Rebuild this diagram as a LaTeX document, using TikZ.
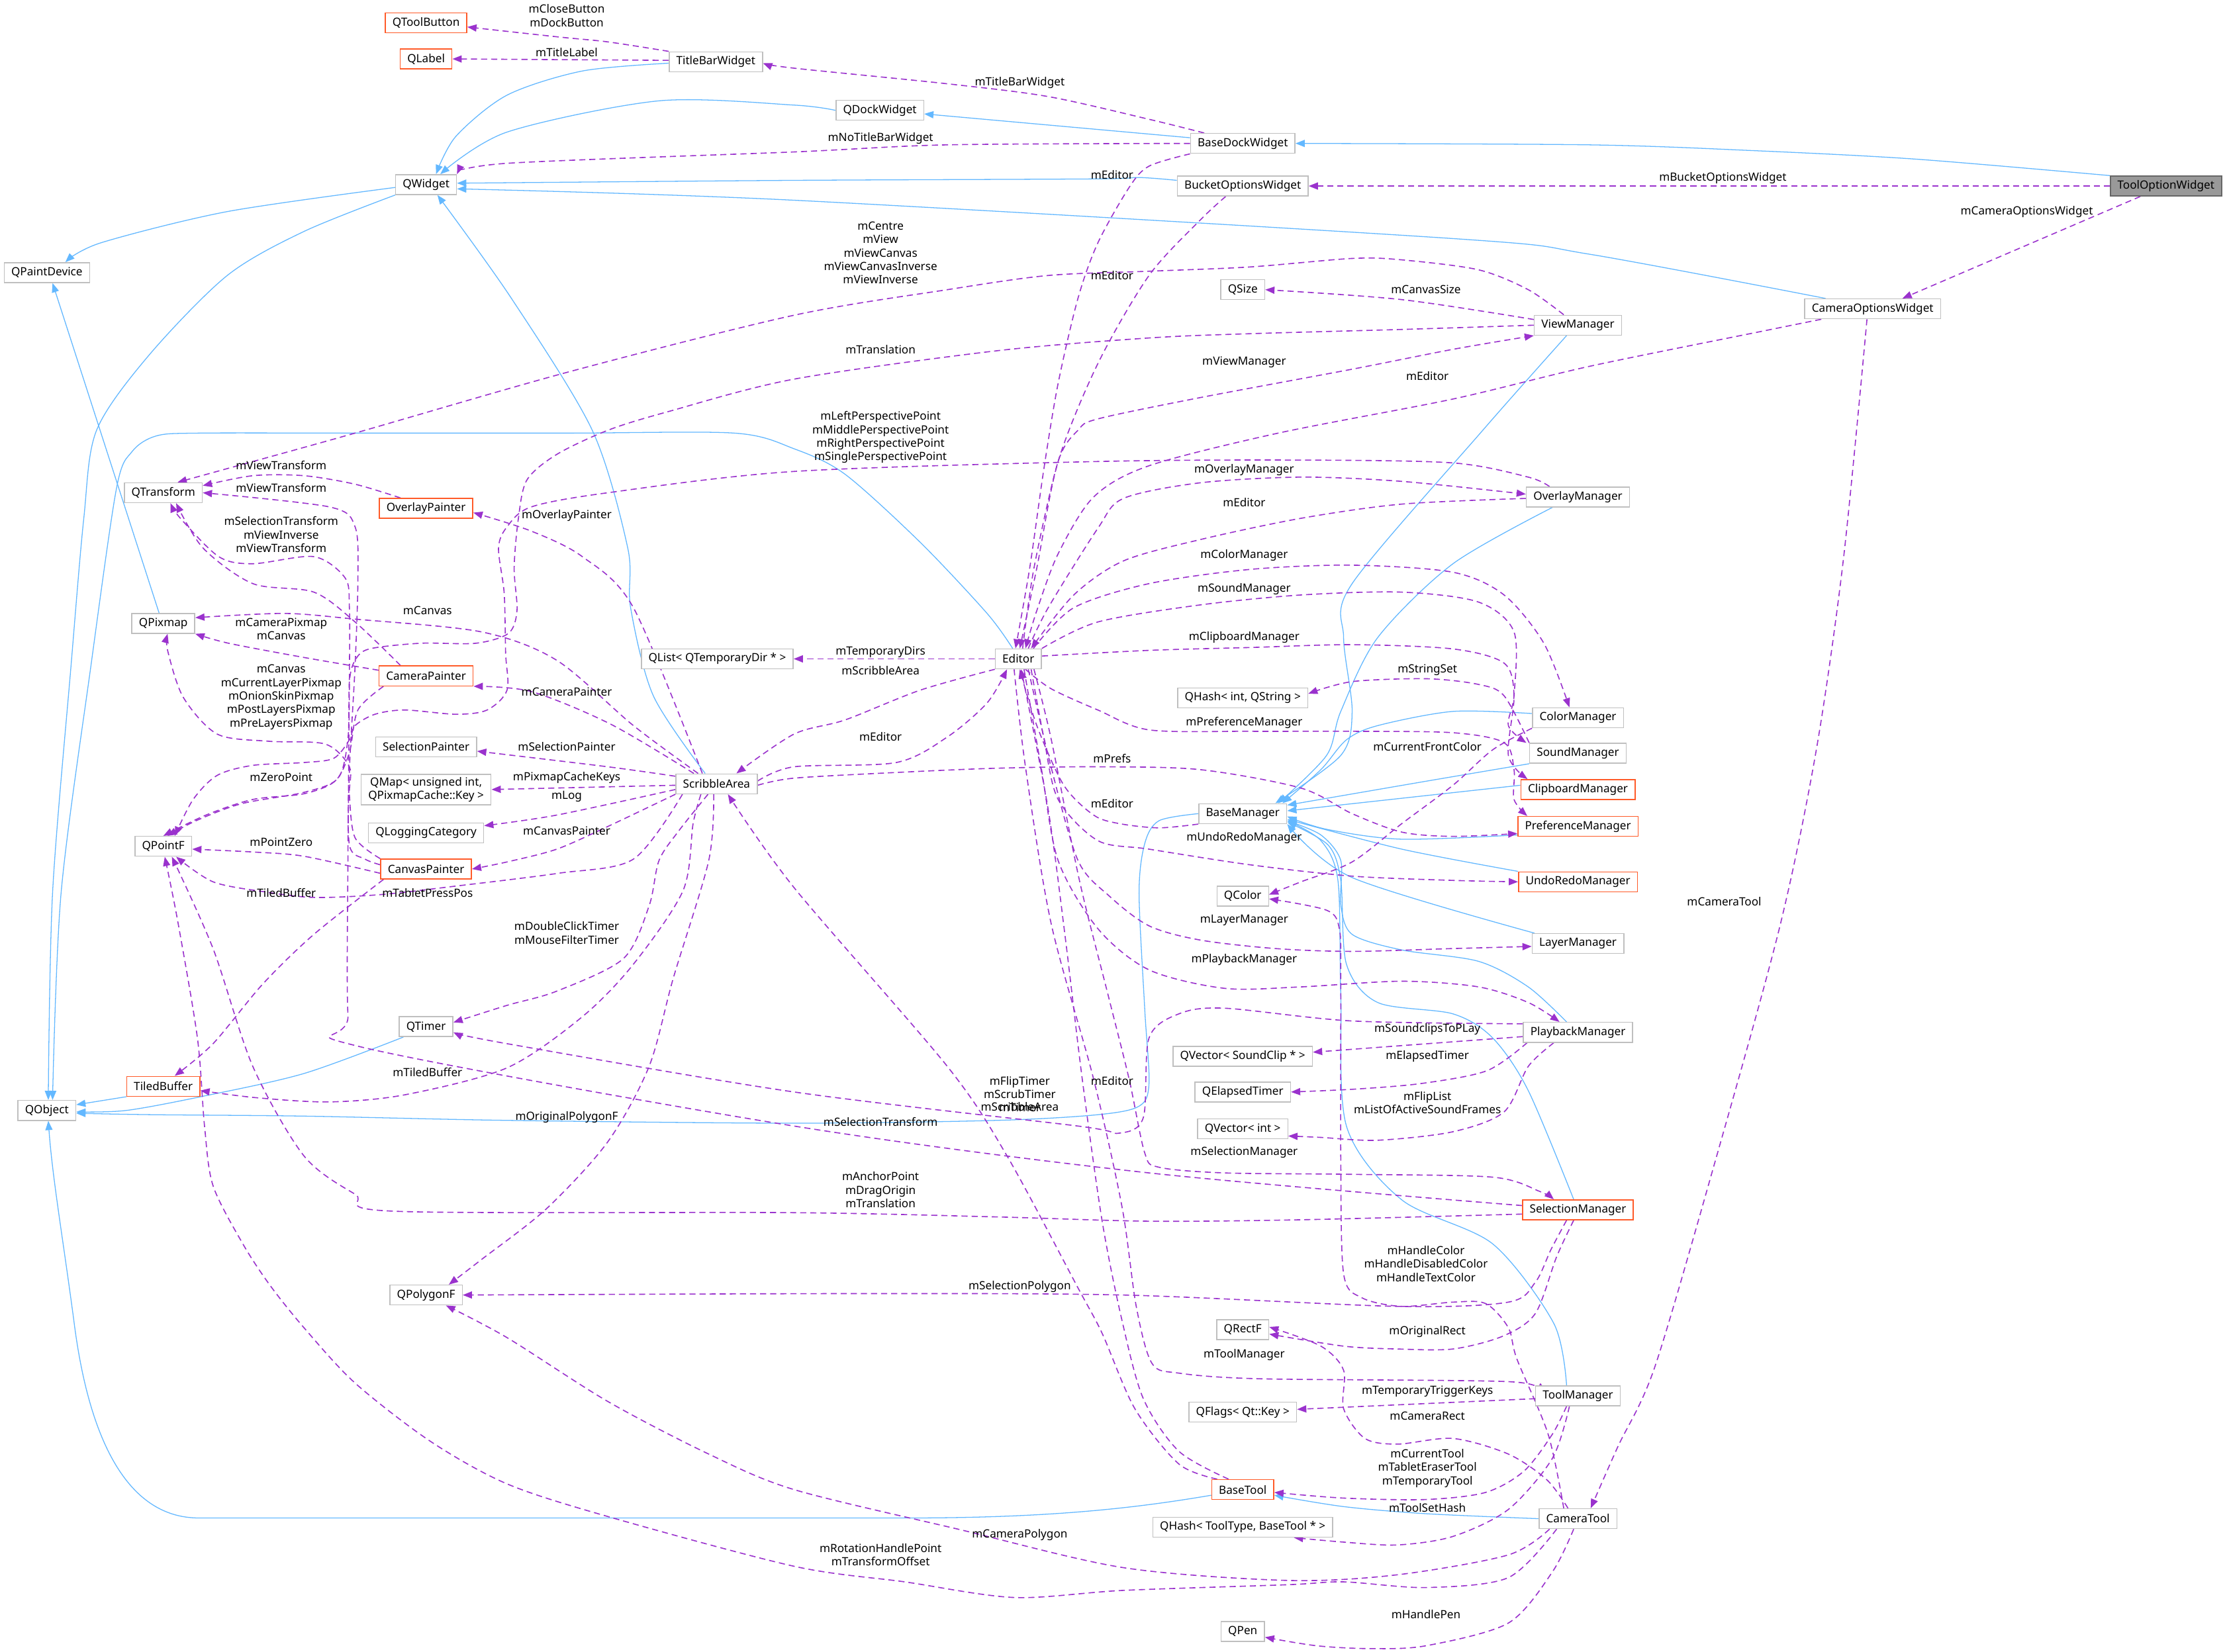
\documentclass[tikz,border=0pt]{standalone}
\usepackage{fontspec}
\setmainfont{Noto Sans}
\usetikzlibrary{arrows.meta}
\definecolor{inhC}{HTML}{63B8FF}
\definecolor{useC}{HTML}{9A32CD}
\definecolor{boxC}{HTML}{BFBFBF}
\definecolor{redC}{HTML}{FF5A28}
\definecolor{mainF}{HTML}{999999}
\definecolor{mainD}{HTML}{666666}
\pgfdeclarelayer{bgw}
\pgfdeclarelayer{edges}
\pgfsetlayers{bgw,edges,main}
\begin{document}
\begin{tikzpicture}[x=1pt,y=-1pt,
  font=\fontsize{8}{9.5}\selectfont,
  cls/.style={draw=boxC, fill=white, line width=0.7pt, inner xsep=5pt, inner ysep=2pt, minimum height=14pt, text=black, align=center},
  clsr/.style={cls, draw=redC},
  clsm/.style={cls, draw=mainD, fill=mainF},
  inh/.style={draw=inhC, line width=0.6pt, -{Triangle[length=6.5pt,width=5pt]}},
  use/.style={draw=useC, line width=0.75pt, dash pattern=on 4.3pt off 2.8pt, -{Triangle[length=6.5pt,width=5pt]}},
  lbl/.style={align=center, inner sep=0pt, text=black},
]
\begin{pgfonlayer}{bgw}
\fill[white] (0,0) rectangle (1568,1163);
\end{pgfonlayer}
\useasboundingbox (0,0) rectangle (1568,1163);

% ---------------- nodes ----------------
\node[clsr] (QToolButton) at (300,16) {QToolButton};
\node[clsr] (QLabel) at (300,41.5) {QLabel};
\node[cls] (TitleBarWidget) at (504,43.5) {TitleBarWidget};
\node[cls] (QDockWidget) at (619.5,77.7) {QDockWidget};
\node[cls] (BaseDockWidget) at (875,101) {BaseDockWidget};
\node[cls] (QWidget) at (300,130) {QWidget};
\node[cls] (BucketOptionsWidget) at (875,131) {BucketOptionsWidget};
\node[clsm] (ToolOptionWidget) at (1525,131) {ToolOptionWidget};
\node[cls] (QPaintDevice) at (33,192) {QPaintDevice};
\node[cls] (QSize) at (875,204) {QSize};
\node[cls] (ViewManager) at (1111,229) {ViewManager};
\node[cls] (CameraOptionsWidget) at (1318.5,217.5) {CameraOptionsWidget};
\node[cls] (QTransform) at (115,347) {QTransform};
\node[clsr] (OverlayPainter) at (300,358) {OverlayPainter};
\node[cls] (OverlayManager) at (1111,350) {OverlayManager};
\node[cls] (QPixmap) at (115,439) {QPixmap};
\node[clsr] (CameraPainter) at (300,476) {CameraPainter};
\node[cls] (Editor) at (717,464) {Editor};
\node[cls] (QList) at (505,464) {QList< QTemporaryDir * >};
\node[cls] (QHashIS) at (875,491.5) {QHash< int, QString >};
\node[cls] (ColorManager) at (1111,505.5) {ColorManager};
\node[cls] (SoundManager) at (1111,530.5) {SoundManager};
\node[cls] (SelectionPainter) at (300,526) {SelectionPainter};
\node[cls] (QMap) at (300,556) {QMap< unsigned int,\\QPixmapCache::Key >};
\node[cls] (ScribbleArea) at (504.5,552) {ScribbleArea};
\node[clsr] (ClipboardManager) at (1111,556) {ClipboardManager};
\node[cls] (BaseManager) at (875,573) {BaseManager};
\node[clsr] (PreferenceManager) at (1111,582) {PreferenceManager};
\node[cls] (QLoggingCategory) at (300,586.5) {QLoggingCategory};
\node[cls] (QPointF) at (115,596) {QPointF};
\node[clsr] (CanvasPainter) at (300,612) {CanvasPainter};
\node[clsr] (UndoRedoManager) at (1111,621) {UndoRedoManager};
\node[cls] (QColor) at (875,631) {QColor};
\node[cls] (LayerManager) at (1111,664.5) {LayerManager};
\node[cls] (QTimer) at (300,723) {QTimer};
\node[cls] (PlaybackManager) at (1111,727) {PlaybackManager};
\node[cls] (QVecSC) at (875,744) {QVector< SoundClip * >};
\node[cls] (QElapsedTimer) at (875,769) {QElapsedTimer};
\node[clsr] (TiledBuffer) at (115,765) {TiledBuffer};
\node[cls] (QObject) at (33,782) {QObject};
\node[cls] (QVecInt) at (875,795) {QVector< int >};
\node[clsr] (SelectionManager) at (1111,852) {SelectionManager};
\node[cls] (QPolygonF) at (300,912) {QPolygonF};
\node[cls] (QRectF) at (875,936.5) {QRectF};
\node[cls] (ToolManager) at (1111,983) {ToolManager};
\node[cls] (QFlags) at (875,994.5) {QFlags< Qt::Key >};
\node[clsr] (BaseTool) at (875,1049) {BaseTool};
\node[cls] (QHashTT) at (875,1075.5) {QHash< ToolType, BaseTool * >};
\node[cls] (CameraTool) at (1111,1069.5) {CameraTool};
\node[cls] (QPen) at (875,1149) {QPen};

% ---------------- labels ----------------
\node[lbl] (l1) at (399,11) {mCloseButton\\mDockButton};
\node[lbl] (l2) at (399,37) {mTitleLabel};
\node[lbl] (l3) at (718,58.5) {mTitleBarWidget};
\node[lbl] (l4) at (620,97.6) {mNoTitleBarWidget};
\node[lbl] (l5) at (783,123) {mEditor};
\node[lbl] (l6) at (1213,125.5) {mBucketOptionsWidget};
\node[lbl] (l7) at (1427,149) {mCameraOptionsWidget};
\node[lbl] (l8) at (620,178) {mCentre\\mView\\mViewCanvas\\mViewCanvasInverse\\mViewInverse};
\node[lbl] (l9) at (783,194) {mEditor};
\node[lbl] (l10) at (1004,204) {mCanvasSize};
\node[lbl] (l11) at (620,246) {mTranslation};
\node[lbl] (l12) at (876,255) {mViewManager};
\node[lbl] (l13) at (1005,265) {mEditor};
\node[lbl] (l14) at (620,308) {mLeftPerspectivePoint\\mMiddlePerspectivePoint\\mRightPerspectivePoint\\mSinglePerspectivePoint};
\node[lbl] (l15) at (198,327.5) {mViewTransform};
\node[lbl] (l16) at (876,331) {mOverlayManager};
\node[lbl] (l17) at (198,343.5) {mViewTransform};
\node[lbl] (l18) at (876,354) {mEditor};
\node[lbl] (l19) at (399,363) {mOverlayPainter};
\node[lbl] (l20) at (198,376.5) {mSelectionTransform\\mViewInverse\\mViewTransform};
\node[lbl] (l21) at (876,391) {mColorManager};
\node[lbl] (l22) at (876,415) {mSoundManager};
\node[lbl] (l23) at (301,430) {mCanvas};
\node[lbl] (l24) at (198,443) {mCameraPixmap\\mCanvas};
\node[lbl] (l25) at (876,449) {mClipboardManager};
\node[lbl] (l26) at (620,459) {mTemporaryDirs};
\node[lbl] (l27) at (620,472) {mScribbleArea};
\node[lbl] (l28) at (1005,472) {mStringSet};
\node[lbl] (l29) at (399,487) {mCameraPainter};
\node[lbl] (l30) at (198,491) {mCanvas\\mCurrentLayerPixmap\\mOnionSkinPixmap\\mPostLayersPixmap\\mPreLayersPixmap};
\node[lbl] (l31) at (876,509) {mPreferenceManager};
\node[lbl] (l32) at (620,519) {mEditor};
\node[lbl] (l33) at (399,526) {mSelectionPainter};
\node[lbl] (l34) at (1005,526) {mCurrentFrontColor};
\node[lbl] (l35) at (783,534) {mPrefs};
\node[lbl] (l36) at (399,547.5) {mPixmapCacheKeys};
\node[lbl] (l37) at (198,547.5) {mZeroPoint};
\node[lbl] (l38) at (399,561) {mLog};
\node[lbl] (l39) at (783,566) {mEditor};
\node[lbl] (l40) at (399,585) {mCanvasPainter};
\node[lbl] (l41) at (876,590) {mUndoRedoManager};
\node[lbl] (l42) at (198,593) {mPointZero};
\node[lbl] (l43) at (198,629) {mTiledBuffer};
\node[lbl] (l44) at (301,629) {mTabletPressPos};
\node[lbl] (l45) at (876,648) {mLayerManager};
\node[lbl] (l46) at (399,657) {mDoubleClickTimer\\mMouseFilterTimer};
\node[lbl] (l47) at (876,676) {mPlaybackManager};
\node[lbl] (l48) at (1005,725) {mSoundclipsToPLay};
\node[lbl] (l49) at (1005,744) {mElapsedTimer};
\node[lbl] (l50) at (301,755) {mTiledBuffer};
\node[lbl] (l51) at (783,761) {mEditor};
\node[lbl] (l52) at (718,770.5) {mFlipTimer\\mScrubTimer\\mTimer};
\node[lbl] (l53) at (718,779.5) {mScribbleArea};
\node[lbl] (l54) at (1005,776.5) {mFlipList\\mListOfActiveSoundFrames};
\node[lbl] (l55) at (399,787) {mOriginalPolygonF};
\node[lbl] (l56) at (620,790) {mSelectionTransform};
\node[lbl] (l57) at (876,811.5) {mSelectionManager};
\node[lbl] (l58) at (620,838) {mAnchorPoint\\mDragOrigin\\mTranslation};
\node[lbl] (l59) at (1004,890) {mHandleColor\\mHandleDisabledColor\\mHandleTextColor};
\node[lbl] (l60) at (718,906) {mSelectionPolygon};
\node[lbl] (l61) at (1005,938) {mOriginalRect};
\node[lbl] (l62) at (876,954) {mToolManager};
\node[lbl] (l63) at (1005,980) {mTemporaryTriggerKeys};
\node[lbl] (l64) at (1005,997) {mCameraRect};
\node[lbl] (l65) at (1005,1034) {mCurrentTool\\mTabletEraserTool\\mTemporaryTool};
\node[lbl] (l66) at (1005,1062) {mToolSetHash};
\node[lbl] (l67) at (718,1081) {mCameraPolygon};
\node[lbl] (l68) at (620,1095) {mRotationHandlePoint\\mTransformOffset};
\node[lbl] (l69) at (1004,1137) {mHandlePen};
\node[lbl] (l70) at (1214,635) {mCameraTool};

\begin{pgfonlayer}{edges}
% ---------------- inheritance (blue) ----------------
\draw[inh] plot[smooth] coordinates {([yshift=-1pt]TitleBarWidget.west) (410,50) (357,67) (321,96) ([xshift=7pt]QWidget.north)};
\draw[inh] plot[smooth] coordinates {(QDockWidget.west) (559,74) (464,71) (357,93) ([xshift=10pt]QWidget.north)};
\draw[inh] ([yshift=4pt]BaseDockWidget.west) -- ([yshift=-2.5pt]QDockWidget.east);
\draw[inh] plot[smooth] coordinates {(ToolOptionWidget.north west) (1348,112) (1233,106) (1119,102) (BaseDockWidget.east)};
\draw[inh] plot[smooth] coordinates {([yshift=4pt]BucketOptionsWidget.west) (802,125) (770,126) (559,127) ([yshift=1pt]QWidget.east)};
\draw[inh] plot[smooth] coordinates {([xshift=15pt]CameraOptionsWidget.north west) (1119,179) (1023,168) (559,141) ([yshift=-3pt]QWidget.east)};
\draw[inh] plot[smooth] coordinates {([yshift=-2pt]QWidget.west) (160,149) (71,171) ([xshift=13pt]QPaintDevice.north)};
\draw[inh] plot[smooth] coordinates {(QWidget.south west) (214,163) (160,194) (105,250) (68,303) (59,365) (50,469) (37,629) ([xshift=1pt]QObject.north)};
\draw[inh] ([xshift=-3pt]QPixmap.north) -- ([xshift=4pt]QPaintDevice.south);
\draw[inh] plot[smooth] coordinates {([xshift=-8pt]ScribbleArea.north) (460,490) (444,428) (442,386) (417,303) (360,210) ([xshift=8pt]QWidget.south)};
\draw[inh] plot[smooth] coordinates {([xshift=-4pt]Editor.north) (695,432) (648,382) (595,334) (559,316) (517,305) (400,305) (250,305) (140,305) (110,307) (93,318) (82,344) (64,469) (43,629) ([xshift=4pt]QObject.north)};
\draw[inh] plot[smooth] coordinates {([xshift=-8pt]ViewManager.south) (1044,303) (952,411) (946,449) (952,501) (944,532) ([xshift=23pt]BaseManager.north)};
\draw[inh] plot[smooth] coordinates {([xshift=-18pt]OverlayManager.south) (1023,397) (970,449) (944,501) (934,532) ([xshift=25pt]BaseManager.north)};
\draw[inh] plot[smooth] coordinates {([yshift=3pt]ColorManager.west) (1023,501) (970,511) (948,521) (930,542) ([xshift=28pt]BaseManager.north)};
\draw[inh] plot[smooth] coordinates {(SoundManager.south west) (1005,550) ([yshift=6pt]BaseManager.east)};
\draw[inh] ([yshift=3pt]ClipboardManager.west) -- ([yshift=2pt]BaseManager.east);
\draw[inh] plot[smooth] coordinates {([yshift=-6pt]PreferenceManager.west) (987,591) (934,584) ([yshift=-2pt]BaseManager.east)};
\draw[inh] plot[smooth] coordinates {(UndoRedoManager.north west) (987,598) ([yshift=-4pt]BaseManager.east)};
\draw[inh] plot[smooth] coordinates {([xshift=2pt]LayerManager.north west) (952,618) (BaseManager.south east)};
\draw[inh] plot[smooth] coordinates {([xshift=-8pt]PlaybackManager.north) (1076,695) (1041,677) (987,669) (952,658) (944,637) (944,606) (930,588) ([yshift=-5pt]BaseManager.east)};
\draw[inh] plot[smooth] coordinates {([xshift=-3pt]SelectionManager.north) (1076,768) (1051,731) (1023,714) (970,706) (948,679) (944,620) (935,595) ([yshift=-6pt]BaseManager.east)};
\draw[inh] plot[smooth] coordinates {([xshift=-8pt]ToolManager.north) (1094,932) (1051,876) (987,845) (948,793) (944,700) (942,620) (930,592) ([yshift=-5pt]BaseManager.east)};
\draw[inh] plot[smooth] coordinates {(BaseManager.west) (816,578) (806,594) (802,629) (806,711) (809,763) (802,779) (773,785) (702,789) (559,791) (357,789) (214,786) (107,785) ([yshift=-2pt]QObject.east)};
\draw[inh] plot[smooth] coordinates {([xshift=-16pt]QTimer.south) (214,756) (143,772) (89,782) ([yshift=-1pt]QObject.east)};
\draw[inh] (TiledBuffer.south west) -- ([yshift=4pt]QObject.east);
\draw[inh] ([yshift=-4pt]BaseTool.west) .. controls (800,1062) and (740,1069) .. (640,1069) -- (140,1069) .. controls (88,1069) and (62,1010) .. (52,930) .. controls (44,870) and (37,830) .. ([xshift=1pt]QObject.south);
\draw[inh] plot[smooth] coordinates {(CameraTool.west) (1004,1066) (946,1061) ([yshift=-4pt]BaseTool.east)};

% ---------------- usage (purple dashed) ----------------
\draw[use] plot[smooth] coordinates {(TitleBarWidget.north west) (428,29.5) (393,26) ([yshift=-3pt]QToolButton.east)};
\draw[use] ([yshift=1pt]TitleBarWidget.west) -- (QLabel.east);
\draw[use] plot[smooth] coordinates {([xshift=10pt]BaseDockWidget.north west) (809,84) (738,68) (667,59) (559,48) ([yshift=-1pt]TitleBarWidget.east)};
\draw[use] plot[smooth] coordinates {(BaseDockWidget.west) (667,102) (559,107) (357,115) (QWidget.north east)};
\draw[use] (ToolOptionWidget.west) -- (BucketOptionsWidget.east);
\draw[use] ([xshift=-18pt]ToolOptionWidget.south) -- ([xshift=21pt]CameraOptionsWidget.north);
\draw[use] plot[smooth] coordinates {(BaseDockWidget.south west) (809,117) (795,132) (773,171) (759,210) (745,270) (735,330) (725,400) ([xshift=-2pt]Editor.north)};
\draw[use] plot[smooth] coordinates {([xshift=-12pt]BucketOptionsWidget.south) (845,155) (809,194) (773,256) (745,325) (730,400) ([xshift=1pt]Editor.north)};
\draw[use] plot[smooth] coordinates {([xshift=-10pt]ViewManager.north) (1076,204) (1041,190) (987,183) (952,182) (880,188) (809,191) (738,194) (667,204) (559,222) (400,262) (250,305) (160,330) ([xshift=10pt]QTransform.north)};
\draw[use] plot[smooth] coordinates {([yshift=4pt]ViewManager.west) (987,211) (QSize.east)};
\draw[use] plot[smooth] coordinates {(ViewManager.west) (987,232) (880,235) (809,238) (702,247) (559,267) (470,290) (428,303) (392,320) (371,338) (365,365) (362,400) (364,430) (358,446) (335,453) (296,453) (260,457) (250,465) (246,480) (245,520) (238,548) (214,558) (170,566) (138,578) ([xshift=3pt]QPointF.north)};
\draw[use] plot[smooth] coordinates {([xshift=3pt]Editor.north) (728,400) (745,325) (759,303) (773,295) (845,280) (952,260) (1023,246) (ViewManager.south west)};
\draw[use] plot[smooth] coordinates {([xshift=12pt]CameraOptionsWidget.south west) (1242,233) (1119,258) (1023,281) (900,305) (809,328) (770,350) (745,390) (730,430) ([xshift=5pt]Editor.north)};
\draw[use] plot[smooth] coordinates {([xshift=7pt]Editor.north) (738,428) (773,372) (791,351) (845,340) (916,336) (987,339) ([yshift=2pt]OverlayManager.west)};
\draw[use] plot[smooth] coordinates {([yshift=-1pt]OverlayManager.west) (987,355) (916,365) (845,380) (791,395) (756,419) ([xshift=9pt]Editor.north)};
\draw[use] plot[smooth] coordinates {([xshift=-20pt]OverlayManager.north) (1076,336) (1023,326) (916,324) (773,325) (559,332) (428,347) (374,357) (357,371) (351,386) (355,418) (356,460) (357,486) (343,500) (321,503) (285,500) (264,503) (250,511) (246,521) (235,534) (214,537) (178,539) (153,546) (136,563) ([xshift=8pt]QPointF.north)};
\draw[use] plot[smooth] coordinates {([xshift=-6pt]Editor.north east) (756,428) (809,411) (880,401) (952,398) (1023,403) (1059,419) (1087,453) ([xshift=-6pt]ColorManager.north)};
\draw[use] plot[smooth] coordinates {(Editor.north east) (773,438) (845,426) (916,419) (987,417) (1041,424) (1066,445) (1066,490) (1062,511) ([xshift=-2pt]SoundManager.north west)};
\draw[use] plot[smooth] coordinates {([yshift=2pt]Editor.east) (809,458) (880,456) (952,454) (1023,457) (1059,467) (1066,490) (1062,532) ([xshift=5pt]ClipboardManager.north west)};
\draw[use] (Editor.west) -- (QList.east);
\draw[use] plot[smooth] coordinates {(Editor.south west) (648,486) (595,507) (559,517) ([xshift=14pt]ScribbleArea.north)};
\draw[use] plot[smooth] coordinates {([yshift=2pt]ScribbleArea.east) (559,540) (631,537) (667,519) (695,495) ([xshift=-8pt]Editor.south)};
\draw[use] plot[smooth] coordinates {(SoundManager.north west) (1059,490) (1041,482) (1005,478) (952,480) ([yshift=3pt]QHashIS.east)};
\draw[use] plot[smooth] coordinates {([xshift=5pt]Editor.south) (740,485) (773,500) (809,514) (880,515) (952,515) (1023,516) (1059,523) (1066,542) (1066,563) ([xshift=7pt]PreferenceManager.north west)};
\draw[use] plot[smooth] coordinates {(ColorManager.south west) (1051,528) (1023,553) (987,580) (952,607) (916,621) ([yshift=1pt]QColor.east)};
\draw[use] plot[smooth] coordinates {([yshift=-1pt]ScribbleArea.east) (559,548) (631,544) (702,541) (773,540) (845,542) (916,555) (952,573) (987,586) (1023,589) ([yshift=-5pt]PreferenceManager.west)};
\draw[use] plot[smooth] coordinates {(BaseManager.south west) (816,583) (788,580) (770,574) (749,553) (730,511) ([xshift=1pt]Editor.south)};
\draw[use] plot[smooth] coordinates {([xshift=9pt]Editor.south) (735,520) (745,563) (773,592) (809,598) (880,609) (952,617) (1023,620) (UndoRedoManager.west)};
\draw[use] plot[smooth] coordinates {([xshift=7pt]Editor.south) (740,540) (759,606) (781,631) (809,652) (845,662) (898,668) (952,670) (1023,668) ([yshift=-2pt]LayerManager.west)};
\draw[use] plot[smooth] coordinates {([xshift=4pt]Editor.south) (733,540) (745,606) (773,654) (809,683) (862,696) (916,695) (987,691) (1041,695) (1076,706) ([xshift=-13pt]PlaybackManager.north)};
\draw[use] ([yshift=-3pt]PlaybackManager.west) -- ([yshift=3pt]QVecSC.east);
\draw[use] plot[smooth] coordinates {([xshift=3pt]PlaybackManager.south west) (1047,754) (1001,763) (954,767) (QElapsedTimer.east)};
\draw[use] plot[smooth] coordinates {([xshift=-17pt]PlaybackManager.south) (1076,751) (1059,783) (1023,797) (970,803) (930,801) ([yshift=-5pt]QVecInt.east)};
\draw[use] plot[smooth] coordinates {([yshift=6pt]PlaybackManager.west) (952,719) (862,710) (830,714) (809,731) (805,787) (788,798) (759,793) (559,769) (357,735) ([yshift=-4pt]QTimer.east)};
\draw[use] plot[smooth] coordinates {([xshift=-6pt]ScribbleArea.south) (478,585) (464,606) (457,638) (439,675) (392,698) (357,708) ([yshift=3pt]QTimer.east)};
\draw[use] plot[smooth] coordinates {([xshift=-11pt]ScribbleArea.south) (488,580) (481,627) (446,679) (410,716) (357,752) (285,771) (232,776) (180,773) ([yshift=-3pt]TiledBuffer.east)};
\draw[use] plot[smooth] coordinates {([xshift=-2pt]ScribbleArea.south) (499,606) (474,689) (457,751) (428,804) (385,851) (339,887) ([xshift=16pt]QPolygonF.north)};
\draw[use] plot[smooth] coordinates {([xshift=5pt]ScribbleArea.south west) (446,605) (393,615) (321,624) (268,630) (221,632) (186,628) (150,621) ([xshift=9pt]QPointF.south)};
\draw[use] plot[smooth] coordinates {(ScribbleArea.south west) (428,582) (392,598) (357,607) (CanvasPainter.east)};
\draw[use] plot[smooth] coordinates {([yshift=-4pt]ScribbleArea.west) (392,574) ([yshift=5pt]QLoggingCategory.east)};
\draw[use] ([yshift=-1pt]ScribbleArea.west) -- (QMap.east);
\draw[use] plot[smooth] coordinates {([yshift=-2pt]ScribbleArea.north west) (428,540) ([yshift=-3pt]SelectionPainter.east)};
\draw[use] plot[smooth] coordinates {([xshift=-16pt]ScribbleArea.north) (430,510) (374,487) (CameraPainter.south east)};
\draw[use] plot[smooth] coordinates {([xshift=-10pt]ScribbleArea.north) (446,428) (410,392) (374,374) ([yshift=-3pt]OverlayPainter.east)};
\draw[use] plot[smooth] coordinates {([xshift=-13pt]ScribbleArea.north) (446,511) (392,465) (339,445) (250,436) (200,432) ([yshift=4pt]QPixmap.east)};
\draw[use] plot[smooth] coordinates {([yshift=4pt]CameraPainter.west) (214,463) (161,453) (QPixmap.south east)};
\draw[use] plot[smooth] coordinates {([xshift=-18pt]OverlayPainter.north) (250,341) (214,335) (178,335) ([yshift=5pt]QTransform.east)};
\draw[use] plot[smooth] coordinates {([yshift=3pt]CanvasPainter.west) (257,605) (246,595) (246,543) (250,469) (252,407) (250,371) (232,357) (QTransform.east)};
\draw[use] plot[smooth] coordinates {([xshift=-18pt]CameraPainter.north) (250,438) (221,417) (178,411) (143,386) ([xshift=9pt]QTransform.south)};
\draw[use] plot[smooth] coordinates {([yshift=3pt]SelectionManager.west) (809,826) (559,793) (253,737) (245,715) (245,600) (246,480) (246,428) (243,407) (221,392) (178,397) (154,392) (127,365) ([xshift=5pt]QTransform.south)};
\draw[use] plot[smooth] coordinates {(CanvasPainter.north west) (250,590) (246,560) (246,540) (229,524) (189,522) (153,517) (129,491) (118,458) ([xshift=3pt]QPixmap.south)};
\draw[use] plot[smooth] coordinates {([yshift=-3pt]CanvasPainter.west) (214,603) (178,600) ([yshift=-2pt]QPointF.east)};
\draw[use] plot[smooth] coordinates {([xshift=-30pt]CanvasPainter.south) (221,658) (185,693) (150,735) ([xshift=8pt]TiledBuffer.north)};
\draw[use] plot[smooth] coordinates {([xshift=-30pt]CameraPainter.south) (252,500) (246,530) (236,550) (214,559) (178,563) (145,574) (QPointF.north)};
\draw[use] plot[smooth] coordinates {([yshift=-3pt]SelectionManager.west) (916,859) (809,860) (702,857) (559,854) (278,853) (250,841) (214,814) (178,751) (150,668) ([xshift=6pt]QPointF.south)};
\draw[use] plot[smooth] coordinates {([xshift=-15pt]CameraTool.south) (1062,1111) (1004,1118) (946,1114) (907,1116) (791,1120) (714,1125) (637,1114) (559,1103) (428,1068) (357,1045) (303,1015) (250,974) (214,935) (190,905) (171,876) (150,835) (144,793) (139,731) (125,648) ([xshift=1pt]QPointF.south)};
\draw[use] plot[smooth] coordinates {([xshift=-8pt]SelectionManager.south) (1092,880) (1081,903) (1062,917) (984,920) (791,912) (600,911) (QPolygonF.east)};
\draw[use] plot[smooth] coordinates {([xshift=-20pt]CameraTool.south) (1062,1095) (984,1109) (907,1113) (791,1104) (675,1077) (559,1049) (499,1024) (428,987) (357,942) ([xshift=14pt]QPolygonF.south)};
\draw[use] plot[smooth] coordinates {([xshift=-3pt]SelectionManager.south) (1096,885) (1081,925) (1058,941) (1023,950) (984,950) (946,948) ([yshift=-3pt]QRectF.east)};
\draw[use] plot[smooth] coordinates {([xshift=-7pt]CameraTool.north) (1089,1042) (1062,1024) (1023,1013) (984,1017) (961,1013) (946,992) (946,965) (930,948) ([yshift=2pt]QRectF.east)};
\draw[use] plot[smooth] coordinates {([xshift=-10pt]CameraTool.north) (1090,1010) (1068,957) (1062,935) (1046,918) (1023,917) (987,920) (959,914) (946,897) (944,814) (944,689) (943,654) (934,641) ([yshift=-2pt]QColor.east)};
\draw[use] ([yshift=-2pt]ToolManager.west) -- ([yshift=2pt]QFlags.east);
\draw[use] plot[smooth] coordinates {([xshift=-8pt]ToolManager.south) (1093,1010) (1073,1036) (1046,1051) (1004,1056) (946,1055) ([yshift=-2pt]BaseTool.east)};
\draw[use] plot[smooth] coordinates {([xshift=-6pt]ToolManager.south) (1093,1027) (1062,1063) (1023,1082) (984,1088) (946,1086) ([xshift=36pt]QHashTT.south)};
\draw[use] plot[smooth] coordinates {([xshift=-3pt]CameraTool.south) (1093,1107) (1062,1143) (1004,1159) (965,1161) (927,1159) ([yshift=-4pt]QPen.east)};
\draw[use] plot[smooth] coordinates {([xshift=-4pt]CameraOptionsWidget.south) (1298,393) (1279,527) (1253,653) (1207,820) (1165,963) (1139,1019) ([xshift=9pt]CameraTool.north)};
\draw[use] plot[smooth] coordinates {([xshift=-18pt]BaseTool.north) (830,1031) (799,992) (776,939) (759,907) (709,814) (667,751) (559,625) ([xshift=8pt]ScribbleArea.south)};
\draw[use] plot[smooth] coordinates {([xshift=-10pt]BaseTool.north) (830,1022) (805,985) (790,930) (776,860) (762,760) (750,660) (738,570) ([xshift=2pt]Editor.south)};
\draw[use] plot[smooth] coordinates {([xshift=11pt]Editor.south) (740,520) (760,620) (780,700) (795,760) (806,812) (816,822) (862,826) (952,827) (1051,829) (1084,839) ([xshift=-17pt]SelectionManager.north)};
\draw[use] plot[smooth] coordinates {([xshift=-3pt]Editor.south) (722,540) (740,650) (770,760) (790,850) (800,920) (811,960) (830,967) (888,971) (1062,973) ([yshift=3pt]ToolManager.west)};
\end{pgfonlayer}
\end{tikzpicture}
\end{document}
